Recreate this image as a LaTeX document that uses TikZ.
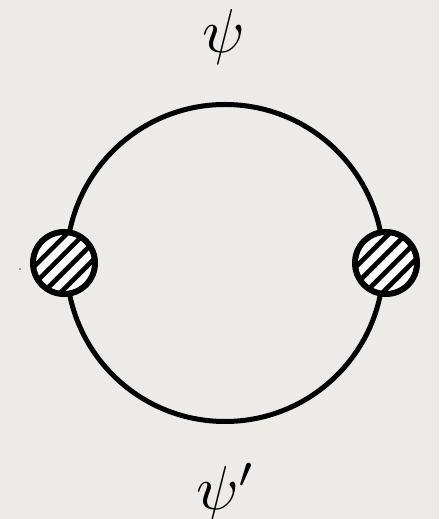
\documentclass[tikz,border=0pt]{standalone}
\usetikzlibrary{calc}
\definecolor{paper}{RGB}{237,235,231}
\tikzset{
  loopline/.style={circle, draw=black, line width=5pt, minimum size=317pt, inner sep=0pt},
  blob/.style={circle, draw=black, fill=white, line width=6pt, minimum size=62pt, inner sep=0pt,
    path picture={
      \foreach \k in {-2.5,-1.5,-0.5,0.5,1.5,2.5}{
        \draw[line width=4.6pt, line cap=butt]
          ($(path picture bounding box.center)+(\k*8.75pt,-\k*8.75pt)+(-40pt,-40pt)$) --
          ($(path picture bounding box.center)+(\k*8.75pt,-\k*8.75pt)+(40pt,40pt)$);
      }
    }},
  lbl/.style={inner sep=0pt, scale=6.2}
}
\begin{document}
\begin{tikzpicture}[x=1pt,y=1pt]
  \fill[paper] (0,0) rectangle (439,519);
  \useasboundingbox (0,0) rectangle (439,519);
  \node[loopline] (loop) at (225,256) {};
  \node[blob] (bl) at (loop.west) {};
  \node[blob] (br) at (loop.east) {};
  \node[lbl, anchor=base] (psi) at (224,466) {$\psi$};
  \node[lbl, anchor=base west] (psip) at (195,9) {$\psi'$};
  \fill[black!70] (20,250) circle (0.8pt);
\end{tikzpicture}
\end{document}
